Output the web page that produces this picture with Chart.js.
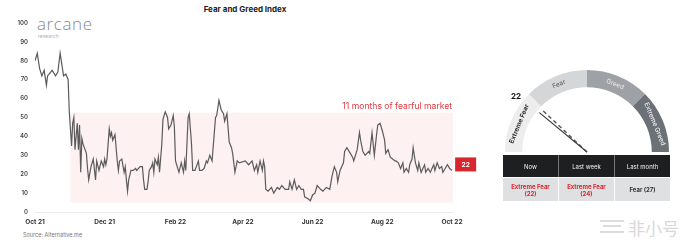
<!DOCTYPE html>
<html>
<head>
<meta charset="utf-8">
<script src="https://cdn.jsdelivr.net/npm/chart.js@4"></script>
<style>
  html, body { margin: 0; padding: 0; background: #fff; }
  body { width: 694px; height: 245px; position: relative; overflow: hidden; font-family: Inter, "Noto Sans", sans-serif; }
  .abs { position: absolute; }
  #title { left: 0; width: 490px; top: 4px; text-align: center; font-size: 8px; font-weight: 700; color: #222; }
  #logo { left: 37px; top: 12px; font-size: 17px; font-weight: 300; color: #8a8a8a; letter-spacing: 0.6px; font-family: "Open Sans", sans-serif; }
  #logoSub { left: 38px; top: 33px; font-size: 5px; color: #b0b0b0; }
  #source { left: 23px; top: 232px; font-size: 5.5px; color: #777; }
  #wmIcon { left: 600px; top: 220px; width: 24px; height: 14px; }
  #wmIcon div { position: absolute; left: 0; height: 2px; background: #dcdcdc; }
  #wm { left: 628px; top: 215px; font-size: 17px; color: #d8d8d8; font-family: "Noto Sans CJK SC", sans-serif; }
  #table { left: 503px; top: 155px; width: 167px; }
  .row { display: flex; }
  .cell { flex: 1; display: flex; align-items: center; justify-content: center; text-align: center; font-size: 6px; line-height: 7px; }
  .head .cell { height: 22px; background: #1e1f21; color: #f2f2f2; border-left: 1px solid #777; }
  .body .cell { height: 23px; background: #dfe0e1; font-weight: 700; color: #333; border-left: 1px solid #fff; margin-top: 1px; }
  .row .cell:first-child { border-left: none; }
  .body .red { color: #d8262e; }
</style>
</head>
<body>
<div id="title" class="abs">Fear and Greed Index</div>
<div id="logo" class="abs">arcane</div>
<div id="logoSub" class="abs">research</div>
<div id="source" class="abs">Source: Alternative.me</div>
<div id="wmIcon" class="abs">
  <div style="top:0;width:24px;"></div>
  <div style="top:5px;width:18px;left:3px;"></div>
  <div style="top:11px;width:24px;"></div>
</div>
<div id="wm" class="abs">非小号</div>

<div class="abs" style="left:0;top:0;width:490px;height:245px;">
  <canvas id="fgChart" width="490" height="245"></canvas>
</div>
<div class="abs" style="left:497px;top:60px;width:180px;height:100px;">
  <canvas id="gaugeChart" width="180" height="100"></canvas>
</div>

<div id="table" class="abs">
  <div class="row head"><div class="cell">Now</div><div class="cell">Last week</div><div class="cell">Last month</div></div>
  <div class="row body" id="tableBody"></div>
</div>

<script>
// days since 1 Oct 2021
const days = [0,2,4,6,8,10,11,15,18,20,
  22,24,25,27,29,30,32,33,34,35,
  37,38,39,40,41,42,45,46,47,49,
  51,53,54,56,58,60,61,62,63,65,
  66,67,68,70,72,73,74,76,78,79,
  80,81,82,84,86,88,89,92,94,95,
  96,98,99,100,102,103,104,105,107,108,
  109,111,112,114,116,117,119,121,122,123,
  124,126,128,130,131,132,134,135,137,138,
  140,143,144,146,148,150,151,153,155,158,
  159,161,163,165,166,168,170,172,173,175,
  177,179,184,187,190,192,194,195,197,199,
  200,201,202,204,207,209,212,214,216,219,
  222,223,225,227,229,231,233,235,236,239,
  241,243,245,247,250,252,255,258,260,262,
  264,265,267,270,271,273,276,278,279,282,
  284,285,287,289,292,293,295,297,299,300,
  302,304,306,307,309,311,313,315,316,318,
  320,322,323,325,327,328,330,331,333,335,
  336,338,341,342,344,346,349,350,352,354,
  356,357,359,361,363,365];

const fgIndex = [80,84,76,72,75,67,72,75,72,74,
  84,76,72,73,70,53,35,47,50,33,
  47,33,46,21,39,36,31,23,17,24,
  28,17,27,22,27,24,28,25,28,44,
  40,42,38,41,27,22,27,28,21,24,
  17,11,17,22,22,23,22,24,24,17,
  12,12,16,22,24,26,21,28,25,29,
  21,36,49,53,50,44,46,51,45,27,
  25,21,26,21,27,22,50,52,36,22,
  22,27,22,22,23,27,26,30,27,50,
  51,59,54,52,48,52,37,34,31,21,
  27,26,27,25,27,22,25,21,27,22,
  27,24,12,11,13,10,13,12,14,12,
  12,16,12,17,12,14,12,12,8,7,
  6,9,10,14,12,11,13,12,19,24,
  21,16,22,26,32,34,31,29,27,33,
  42,38,32,30,32,31,42,30,41,46,
  47,43,38,31,33,29,28,27,27,26,
  23,26,21,23,21,25,28,34,26,22,
  26,21,25,21,23,21,25,22,26,23,
  24,21,23,25,23,22];

const tickDays = [0, 61, 123, 182, 243, 304, 365];
const tickLabels = ["Oct 21", "Dec 21", "Feb 22", "Apr 22", "Jun 22", "Aug 22", "Oct 22"];

// fearful period box (days / index values)
const fearBox = { from: 31, to: 366, low: 5, high: 52.5 };
const fearNote = "11 months of fearful market";
const latestValue = 22;

// gauge
const zones = ["Extreme Fear", "Fear", "Greed", "Extreme Greed"];
const zoneSize = [25, 25, 25, 25];
const nowValue = 22;
const lastWeekValue = 24;
const lastMonthValue = 27;
const periods = ["Now", "Last week", "Last month"];
const periodLabels = ["Extreme Fear", "Extreme Fear", "Fear"];
const periodValues = [nowValue, lastWeekValue, lastMonthValue];

const RED = "#d8262e";

// table under the gauge
const tbody = document.getElementById("tableBody");
periods.forEach((p, i) => {
  const c = document.createElement("div");
  c.className = "cell" + (periodLabels[i] === "Extreme Fear" ? " red" : "");
  c.innerHTML = periodLabels[i] === "Extreme Fear"
    ? periodLabels[i] + "<br>(" + periodValues[i] + ")"
    : periodLabels[i] + " (" + periodValues[i] + ")";
  tbody.appendChild(c);
});

// box + note + badge on the line chart
const fearBoxPlugin = {
  id: "fearBox",
  beforeDatasetsDraw(chart) {
    const { ctx, scales: { x, y } } = chart;
    const x0 = x.getPixelForValue(fearBox.from);
    const x1 = x.getPixelForValue(fearBox.to);
    const y0 = y.getPixelForValue(fearBox.high);
    const y1 = y.getPixelForValue(fearBox.low);
    ctx.save();
    ctx.fillStyle = "#fdf1f1";
    ctx.fillRect(x0, y0, x1 - x0, y1 - y0);
    ctx.fillStyle = "#e0393e";
    ctx.font = "8.6px Inter, sans-serif";
    ctx.textAlign = "right";
    ctx.textBaseline = "bottom";
    ctx.fillText(fearNote, x1 - 1, y0 - 2);
    ctx.restore();
  },
  afterDatasetsDraw(chart) {
    const { ctx, scales: { x, y } } = chart;
    const bx = x.getPixelForValue(fearBox.to) + 2;
    const by = y.getPixelForValue(latestValue) - 13;
    ctx.save();
    ctx.fillStyle = RED;
    ctx.fillRect(bx, by, 21, 14);
    ctx.fillStyle = "#fff";
    ctx.font = "bold 6.5px Inter, sans-serif";
    ctx.textAlign = "center";
    ctx.textBaseline = "middle";
    ctx.fillText(String(latestValue), bx + 10.5, by + 7.5);
    ctx.restore();
  }
};

new Chart(document.getElementById("fgChart").getContext("2d"), {
  type: "line",
  data: {
    datasets: [
      {
        label: "Fear and Greed Index",
        data: days.map((d, i) => ({ x: d, y: fgIndex[i] })),
        borderColor: "#5b5b5b",
        borderWidth: 1.2,
        pointRadius: 0,
        tension: 0,
        fill: false,
      },
    ],
  },
  options: {
    responsive: false,
    animation: false,
    layout: { padding: { top: 23, right: 38, left: 0, bottom: 0 } },
    plugins: { legend: { display: false }, tooltip: { enabled: false } },
    scales: {
      x: {
        type: "linear",
        min: 0,
        max: 365,
        afterBuildTicks: (axis) => { axis.ticks = tickDays.map((v) => ({ value: v })); },
        afterFit: (axis) => { axis.height = 33; },
        grid: { display: false, drawTicks: false },
        border: { color: "#ececec", width: 1 },
        ticks: {
          autoSkip: false,
          maxRotation: 0,
          padding: 6,
          color: "#333",
          font: { family: "Inter", size: 6.5, weight: "bold" },
          callback: (v, i) => tickLabels[i],
        },
      },
      y: {
        min: 0,
        max: 100,
        afterFit: (axis) => { axis.width = 35; },
        grid: { display: false, drawTicks: false },
        border: { display: false },
        ticks: {
          stepSize: 10,
          padding: 7,
          color: "#444",
          font: { family: "Inter", size: 6, weight: "600" },
        },
      },
    },
  },
  plugins: [fearBoxPlugin],
});

// labels on the gauge band + needles
const gaugePlugin = {
  id: "gaugeDeco",
  afterDatasetsDraw(chart) {
    const { ctx } = chart;
    const arcs = chart.getDatasetMeta(0).data;
    const textColors = ["#2a2a2a", "#555", "#eaeaea", "#ffffff"];
    const weights = ["bold", "normal", "normal", "normal"];
    ctx.save();
    arcs.forEach((arc, i) => {
      const a = (arc.startAngle + arc.endAngle) / 2;
      const r = (arc.innerRadius + arc.outerRadius) / 2;
      ctx.save();
      ctx.translate(arc.x + Math.cos(a) * r, arc.y + Math.sin(a) * r);
      ctx.rotate(a + Math.PI / 2);
      ctx.fillStyle = textColors[i];
      ctx.font = weights[i] + " 6.5px Inter, sans-serif";
      ctx.textAlign = "center";
      ctx.textBaseline = "middle";
      ctx.fillText(zones[i], 0, 0);
      ctx.restore();
    });
    const c = arcs[0];
    const len = c.innerRadius - 3;
    const angleOf = (v) => Math.PI + (v / 100) * Math.PI;
    // last week (dashed)
    let a = angleOf(lastWeekValue);
    ctx.strokeStyle = "#555";
    ctx.lineWidth = 1.4;
    ctx.setLineDash([4, 3]);
    ctx.beginPath();
    ctx.moveTo(c.x, c.y);
    ctx.lineTo(c.x + Math.cos(a) * len, c.y + Math.sin(a) * len);
    ctx.stroke();
    // now (solid)
    a = angleOf(nowValue);
    ctx.setLineDash([]);
    ctx.strokeStyle = "#3a3a3a";
    ctx.lineWidth = 1.2;
    ctx.beginPath();
    ctx.moveTo(c.x, c.y);
    ctx.lineTo(c.x + Math.cos(a) * len, c.y + Math.sin(a) * len);
    ctx.stroke();
    // current value
    ctx.fillStyle = "#111";
    ctx.font = "bold 8px Inter, sans-serif";
    ctx.textAlign = "center";
    ctx.textBaseline = "middle";
    ctx.fillText(String(nowValue), c.x - 71, c.y - 55);
    ctx.restore();
  }
};

new Chart(document.getElementById("gaugeChart").getContext("2d"), {
  type: "doughnut",
  data: {
    labels: zones,
    datasets: [
      {
        data: zoneSize,
        backgroundColor: ["#ededee", "#d4d6d8", "#9ea2a7", "#6c7177"],
        borderWidth: 0,
      },
    ],
  },
  options: {
    responsive: false,
    animation: false,
    rotation: -90,
    circumference: 180,
    cutout: "79%",
    layout: { padding: { left: 8, right: 8, top: 10, bottom: 8 } },
    plugins: { legend: { display: false }, tooltip: { enabled: false } },
  },
  plugins: [gaugePlugin],
});
</script>
</body>
</html>
